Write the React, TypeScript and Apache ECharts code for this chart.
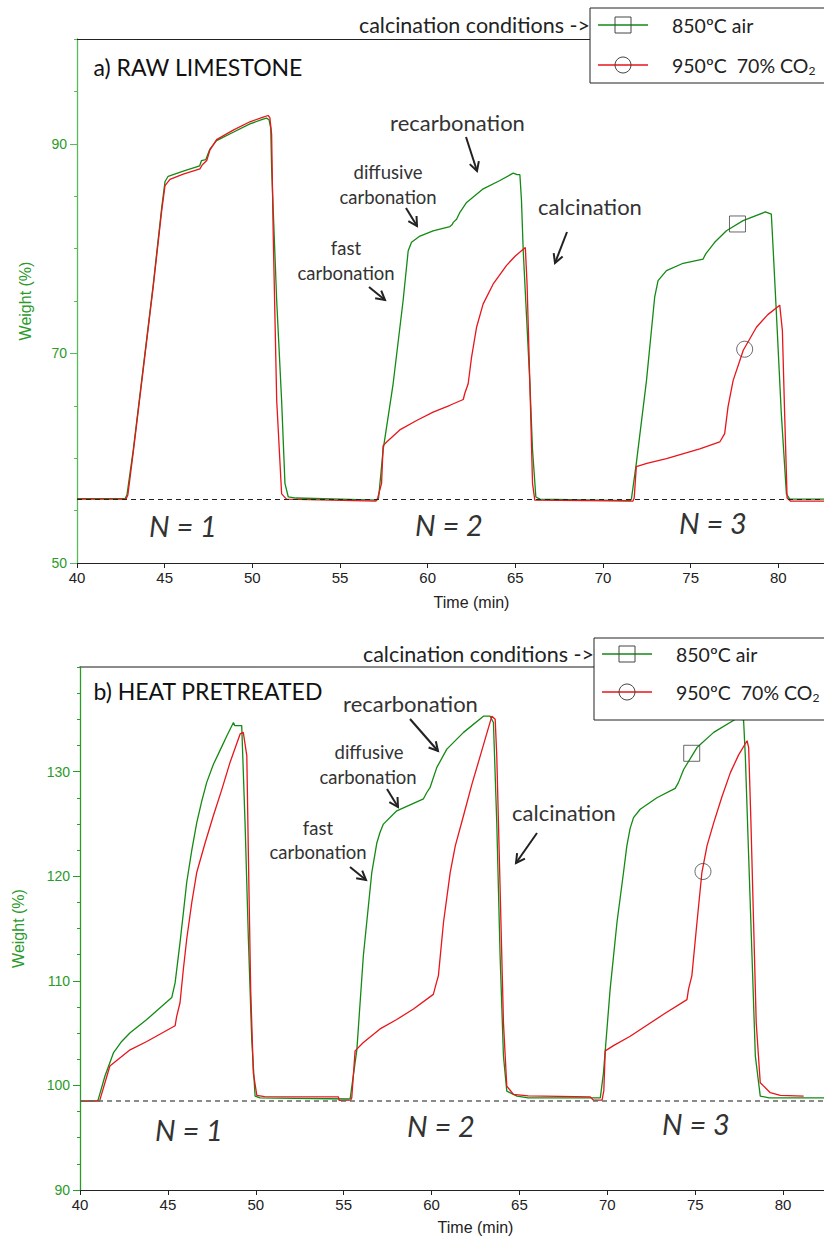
import React, { useEffect, useRef } from 'react';
import * as echarts from 'echarts';

// ---------- DATA (Time in min, Weight in %) ----------
const xTicks = [40, 45, 50, 55, 60, 65, 70, 75, 80];
const yLabelsRaw = [50, 70, 90];
const yLabelsHeat = [90, 100, 110, 120, 130];
const seriesNames = ['850ºC air', '950ºC  70% CO2'];

const rawAir: [number, number][] = [
  [40, 56.15], [42.75, 56.15], [42.85, 56.5], [43.21, 60.8], [43.78, 68.7], [44.35, 76.6], [44.83, 83.9],
  [45.02, 86.4], [45.2, 86.9], [46.06, 87.4], [47.0, 87.9], [47.1, 88.4], [47.35, 88.5], [47.58, 89.5],
  [47.96, 90.3], [48.91, 91.1], [49.86, 91.9], [50.62, 92.35], [50.81, 92.45], [50.95, 92.3], [51.05, 91.5],
  [51.1, 87.7], [51.39, 75.0], [51.67, 65.5], [51.86, 57.6], [52.05, 56.3], [52.5, 56.2], [57.1, 56.0],
  [57.2, 56.2], [57.46, 60.8], [58.03, 67.1], [58.6, 75.05], [58.89, 79.8], [59.08, 80.6], [59.56, 81.2],
  [60.31, 81.7], [61.27, 82.1], [61.4, 82.3], [61.46, 82.5], [61.65, 82.8], [61.84, 83.46], [62.22, 84.4],
  [63.17, 85.7], [64.12, 86.5], [64.88, 87.2], [65.1, 87.05], [65.26, 87.05], [65.35, 84.6], [65.45, 79.8],
  [65.64, 73.5], [65.83, 67.1], [65.98, 60.8], [66.17, 56.3], [66.4, 56.1], [71.55, 55.95], [71.62, 56.1],
  [71.9, 59.5], [72.48, 67.4], [72.95, 75.4], [73.14, 76.95], [73.62, 77.9], [74.57, 78.6], [75.71, 79.0],
  [75.86, 79.5], [76.37, 80.6], [77.04, 81.7], [77.99, 82.67], [79.26, 83.5], [79.6, 83.3], [79.7, 80.1],
  [79.89, 73.8], [80.17, 64.25], [80.46, 56.6], [80.65, 56.1], [85, 56.1],
];

const rawCO2: [number, number][] = [
  [40, 56.1], [42.8, 56.1], [42.9, 56.5], [43.21, 60.6], [43.78, 68.5], [44.35, 76.4], [44.83, 83.6],
  [45.02, 86.0], [45.3, 86.6], [46.06, 87.1], [47.01, 87.6], [47.15, 88.0], [47.4, 88.4], [47.58, 89.4],
  [47.96, 90.4], [48.91, 91.3], [49.86, 92.1], [50.62, 92.55], [50.9, 92.7], [51.0, 92.5], [51.1, 90.9],
  [51.19, 81.4], [51.39, 65.5], [51.67, 56.6], [51.95, 56.1], [57.05, 55.9], [57.15, 56.2], [57.37, 57.6],
  [57.46, 61.2], [57.66, 61.55], [58.41, 62.7], [59.37, 63.6], [60.31, 64.4], [61.27, 65.05], [62.03, 65.6],
  [62.12, 66.2], [62.31, 67.1], [62.5, 69.6], [62.79, 72.5], [63.16, 74.7], [63.73, 76.6], [64.5, 78.4],
  [65.0, 79.3], [65.57, 80.1], [65.67, 76.6], [65.83, 67.1], [65.98, 57.6], [66.11, 56.0], [71.7, 55.9],
  [71.78, 56.2], [71.9, 59.2], [72.5, 59.5], [73.62, 59.97], [75.52, 60.9], [76.66, 61.55], [76.94, 62.35],
  [77.13, 64.9], [77.42, 67.4], [78.0, 70.3], [78.75, 72.5], [79.4, 73.7], [80.08, 74.6], [80.23, 72.2],
  [80.36, 64.25], [80.5, 56.2], [80.7, 55.9], [85, 55.9],
];

const heatAir: [number, number][] = [
  [40, 98.5], [41.0, 98.55], [41.04, 98.66], [41.42, 100.9], [41.9, 103.1], [42.37, 104.2], [42.85, 105.04],
  [43.8, 106.3], [45.22, 108.4], [45.41, 109.8], [45.69, 113.65], [45.88, 116.5], [46.07, 119.4],
  [46.36, 122.5], [46.64, 125.1], [46.93, 127.2], [47.21, 128.97], [47.59, 130.7], [48.0, 132.15],
  [48.35, 133.4], [48.73, 134.7], [48.8, 134.4], [49.01, 134.4], [49.2, 134.4], [49.39, 125.1],
  [49.58, 113.97], [49.77, 104.4], [49.96, 98.98], [50.24, 98.8], [55.3, 98.7], [55.37, 98.73],
  [55.75, 103.4], [56.12, 112.4], [56.6, 120.35], [56.89, 123.2], [57.07, 124.2], [57.26, 124.98],
  [58.02, 126.25], [59.54, 127.4], [59.73, 128.0], [59.92, 128.5], [60.3, 130.4], [60.87, 132.15],
  [61.82, 133.75], [62.95, 135.3], [63.33, 135.3], [63.52, 134.7], [63.71, 125.1], [63.9, 112.4],
  [64.09, 102.8], [64.28, 99.45], [64.86, 98.98], [65.5, 98.8], [69.6, 98.8], [69.78, 101.2],
  [70.16, 109.2], [70.55, 115.6], [70.92, 120.35], [71.11, 122.9], [71.3, 124.6], [71.49, 125.6],
  [71.87, 126.4], [72.82, 127.5], [73.86, 128.4], [74.05, 128.97], [74.34, 130.2], [75.1, 132.3],
  [76.05, 133.75], [77.38, 135.1], [77.75, 134.95], [77.85, 131.5], [78.04, 121.9], [78.23, 112.4],
  [78.42, 102.8], [78.7, 98.98], [79.2, 98.8], [85, 98.8],
];

const heatCO2: [number, number][] = [
  [40, 98.5], [41.1, 98.5], [41.14, 98.66], [41.7, 101.85], [42.85, 103.4], [43.8, 104.2], [45.41, 105.7],
  [45.5, 106.6], [45.69, 107.9], [45.88, 111.1], [46.07, 113.97], [46.36, 117.5], [46.64, 120.35],
  [47.12, 123.2], [47.59, 125.8], [48.07, 128.3], [48.54, 130.9], [49.11, 133.6], [49.29, 133.75],
  [49.49, 131.5], [49.58, 121.9], [49.71, 109.2], [49.86, 101.2], [50.06, 99.04], [50.5, 98.92],
  [54.7, 98.9], [54.74, 98.56], [55.4, 98.6], [55.46, 98.8], [55.65, 103.3], [56.12, 104.1], [57.07, 105.4],
  [58.02, 106.3], [58.97, 107.3], [60.1, 108.7], [60.26, 109.7], [60.39, 110.5], [60.68, 115.6],
  [61.06, 120.35], [61.35, 122.9], [61.82, 125.8], [62.29, 128.75], [62.77, 131.5], [63.43, 135.3],
  [63.62, 135.0], [63.71, 131.5], [63.9, 118.8], [64.09, 106.0], [64.28, 99.93], [64.66, 99.14],
  [65.5, 99.0], [69.03, 98.9], [69.2, 98.6], [69.7, 98.6], [69.8, 99.5], [69.88, 103.3], [70.35, 103.8],
  [71.3, 104.7], [73.2, 106.8], [74.53, 108.2], [74.62, 109.2], [74.81, 110.5], [75.1, 115.6],
  [75.38, 120.35], [75.67, 122.9], [76.05, 125.1], [76.52, 127.6], [77.0, 129.9], [77.47, 131.6],
  [77.95, 132.95], [78.04, 132.3], [78.17, 125.1], [78.32, 115.6], [78.47, 106.0], [78.7, 100.26],
  [79.27, 99.3], [79.84, 99.04], [81.17, 98.98],
];

const baselineRaw = 56.1;
const baselineHeat = 98.5;
const markerRawAir: [number, number][] = [[77.67, 82.35]];
const markerRawCO2: [number, number][] = [[78.08, 70.4]];
const markerHeatAir: [number, number][] = [[74.8, 131.75]];
const markerHeatCO2: [number, number][] = [[75.44, 120.45]];

// ---------- STYLE ----------
const GREEN = '#138a13';
const RED = '#e8151b';
const AXGREEN = '#5cb85c';
const LABGREEN = '#2a9a2a';
const AX = '"Liberation Sans", Arial, sans-serif';
const TF = 'Lato, "Open Sans", sans-serif';
const TXT = '#333';

function arrow(x1: number, y1: number, x2: number, y2: number) {
  const a = Math.atan2(y2 - y1, x2 - x1);
  const L = 10, s = 0.5;
  const p1 = [x2 - L * Math.cos(a - s), y2 - L * Math.sin(a - s)];
  const p2 = [x2 - L * Math.cos(a + s), y2 - L * Math.sin(a + s)];
  return [
    { type: 'line', z: 100, shape: { x1, y1, x2, y2 }, style: { stroke: '#222', lineWidth: 2 } },
    { type: 'polyline', z: 100, shape: { points: [p1, [x2, y2], p2] }, style: { stroke: '#222', lineWidth: 2, fill: null } },
  ];
}

function text(x: number, y: number, t: string, size: number, align = 'center', extra: any = {}) {
  return {
    type: 'text', z: 100, x, y,
    style: { text: t, fontSize: size, fontFamily: TF, fill: TXT, align, verticalAlign: 'middle', ...extra },
  };
}

function legend(boxX: number, boxY: number, boxH: number, row1: number, row2: number) {
  const lx1 = boxX + 8, lx2 = boxX + 58, mx = boxX + 33, tx = boxX + 82;
  return [
    text(boxX, row1, 'calcination conditions ->', 21.5, 'right', { fill: '#222' }),
    { type: 'rect', z: 100, shape: { x: boxX, y: boxY, width: 260, height: boxH }, style: { fill: '#fff', stroke: '#222', lineWidth: 1 } },
    { type: 'line', z: 101, shape: { x1: lx1, y1: row1, x2: lx2, y2: row1 }, style: { stroke: GREEN, lineWidth: 1.3 } },
    { type: 'rect', z: 102, shape: { x: mx - 8, y: row1 - 8, width: 16, height: 16 }, style: { fill: null, stroke: '#444', lineWidth: 1 } },
    text(tx, row1, seriesNames[0], 19.5, 'left', { fill: '#222' }),
    { type: 'line', z: 101, shape: { x1: lx1, y1: row2, x2: lx2, y2: row2 }, style: { stroke: RED, lineWidth: 1.3 } },
    { type: 'circle', z: 102, shape: { cx: mx, cy: row2, r: 8 }, style: { fill: null, stroke: '#444', lineWidth: 1 } },
    {
      type: 'text', z: 102, x: tx, y: row2,
      style: {
        text: '950ºC  70% CO{s|2}', fontSize: 19.5, fontFamily: TF, fill: '#222', align: 'left', verticalAlign: 'middle',
        rich: { s: { fontSize: 12, fontFamily: TF, fill: '#222', padding: [10, 0, 0, 0] } },
      },
    },
  ];
}

function lineSeries(name: string, data: [number, number][], color: string, xi: number, yi: number, base?: number, dashColor?: string, dashW?: number) {
  const s: any = {
    type: 'line', name, data, xAxisIndex: xi, yAxisIndex: yi, showSymbol: false, symbol: 'none',
    lineStyle: { color, width: 1.3 }, silent: true, z: 3,
  };
  if (base !== undefined) {
    s.markLine = {
      silent: true, symbol: ['none', 'none'], label: { show: false },
      lineStyle: { type: [5, 4], color: dashColor, width: dashW },
      data: [{ yAxis: base }],
    };
  }
  return s;
}

function marker(data: [number, number][], symbol: string, xi: number, yi: number) {
  return {
    type: 'scatter', data, xAxisIndex: xi, yAxisIndex: yi, symbol, symbolSize: 16, silent: true, z: 5,
    itemStyle: { color: 'rgba(0,0,0,0)', borderColor: '#444', borderWidth: 1 },
  };
}

function xAxes(grid: number, nameGap: number) {
  return [
    {
      gridIndex: grid, type: 'value', min: 40, max: 85, interval: 5, position: 'bottom',
      name: 'Time (min)', nameLocation: 'middle', nameGap,
      nameTextStyle: { fontSize: 16, color: '#222', fontFamily: AX },
      axisLine: { onZero: false, lineStyle: { color: '#222', width: 1 } },
      axisTick: { length: 5, lineStyle: { color: '#222' } },
      axisLabel: { fontSize: 15, color: '#222', margin: 7, fontFamily: AX, customValues: xTicks },
      splitLine: { show: false },
    },
    {
      gridIndex: grid, type: 'value', min: 40, max: 85, position: 'top',
      axisLine: { onZero: false, lineStyle: { color: grid === 0 ? '#222' : '#666', width: grid === 0 ? 1 : 1.5 } },
      axisTick: { show: false }, axisLabel: { show: false }, splitLine: { show: false },
    },
  ];
}

function yAxes(grid: number, min: number, max: number, interval: number, minor: number, labels: number[], nameGap: number, lineColor: string) {
  return [
    {
      gridIndex: grid, type: 'value', min, max, interval, position: 'left',
      name: 'Weight (%)', nameLocation: 'middle', nameGap,
      nameTextStyle: { fontSize: 16, color: LABGREEN, fontFamily: AX },
      axisLine: { show: true, onZero: false, lineStyle: { color: lineColor, width: 1.3 } },
      axisTick: { show: true, length: 7, lineStyle: { color: lineColor }, customValues: labels },
      axisLabel: { fontSize: 14, color: LABGREEN, margin: 10, fontFamily: AX, customValues: labels },
      splitLine: { show: false },
    },
    {
      gridIndex: grid, type: 'value', min, max, interval: minor, position: 'left',
      axisLine: { show: true, onZero: false, lineStyle: { color: 'rgba(0,0,0,0)' } },
      axisTick: { show: true, length: 3, lineStyle: { color: lineColor, width: 1 } },
      axisLabel: { show: false }, splitLine: { show: false },
    },
  ];
}

export default function App() {
  const ref = useRef<HTMLDivElement>(null);
  useEffect(() => {
    const chart = echarts.init(ref.current!, null, { renderer: 'svg' });
    const it = { fontStyle: 'italic' };
    const graphics: any[] = [
      // top panel
      text(93.5, 67, 'a) RAW LIMESTONE', 23, 'left', { fill: '#111' }),
      ...legend(590, 8, 75, 25, 65),
      text(457.5, 122, 'recarbonation', 22),
      text(388, 172, 'diffusive', 18.5),
      text(388, 197, 'carbonation', 18.5),
      text(346, 248, 'fast', 18.5),
      text(346, 273, 'carbonation', 18.5),
      text(590, 206, 'calcination', 22),
      ...arrow(466, 137, 477, 171),
      ...arrow(406, 208, 417, 226),
      ...arrow(369, 287, 385, 300),
      ...arrow(567, 232, 555, 263),
      text(183, 525, 'N = 1', 29, 'center', it),
      text(449, 524, 'N = 2', 29, 'center', it),
      text(713, 522, 'N = 3', 29, 'center', it),
      // bottom panel
      text(93.5, 691, 'b) HEAT PRETREATED', 23, 'left', { fill: '#111' }),
      ...legend(594, 638, 82, 654, 692),
      text(410.5, 703, 'recarbonation', 22),
      text(369, 752, 'diffusive', 18.5),
      text(368, 777, 'carbonation', 18.5),
      text(318, 828, 'fast', 18.5),
      text(318, 852, 'carbonation', 18.5),
      text(564, 812, 'calcination', 22),
      ...arrow(410, 719, 438, 751),
      ...arrow(387, 789, 398, 807),
      ...arrow(350, 867, 366, 880),
      ...arrow(537, 833, 516, 863),
      text(189, 1129, 'N = 1', 29, 'center', it),
      text(441, 1125, 'N = 2', 29, 'center', it),
      text(696, 1123, 'N = 3', 29, 'center', it),
    ];
    chart.setOption({
      animation: false,
      backgroundColor: '#fff',
      grid: [
        { left: 77, right: 34, top: 39, height: 524 },
        { left: 80, right: 29, top: 667, height: 523 },
      ],
      xAxis: [...xAxes(0, 31), ...xAxes(1, 29)],
      yAxis: [
        ...yAxes(0, 50, 100, 10, 5, yLabelsRaw, 44, AXGREEN),
        ...yAxes(1, 90, 140, 10, 2.5, yLabelsHeat, 54, '#2a9a2a'),
      ],
      series: [
        lineSeries(seriesNames[0], rawAir, GREEN, 0, 0, baselineRaw, '#222', 1),
        lineSeries(seriesNames[1], rawCO2, RED, 0, 0),
        marker(markerRawAir, 'rect', 0, 0),
        marker(markerRawCO2, 'circle', 0, 0),
        lineSeries(seriesNames[0], heatAir, GREEN, 2, 2, baselineHeat, '#666', 1.6),
        lineSeries(seriesNames[1], heatCO2, RED, 2, 2),
        marker(markerHeatAir, 'rect', 2, 2),
        marker(markerHeatCO2, 'circle', 2, 2),
      ],
      graphic: { elements: graphics },
    });
    return () => chart.dispose();
  }, []);
  return (
    <div style={{ position: 'absolute', left: 0, top: 0, width: 824, height: 1241, overflow: 'hidden', background: '#fff' }}>
      <div ref={ref} style={{ width: 900, height: 1241 }} />
    </div>
  );
}
